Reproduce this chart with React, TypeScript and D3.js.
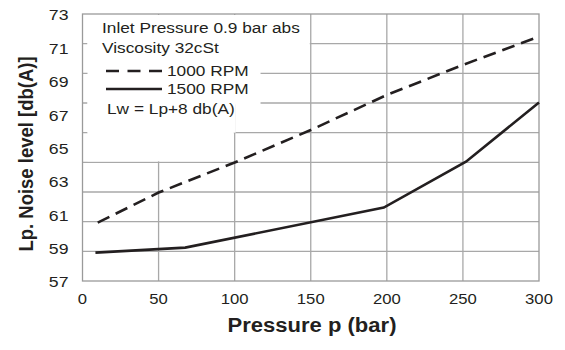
import * as d3 from "d3";

/* ------------------------------------------------------------------ */
/*  Data                                                              */
/* ------------------------------------------------------------------ */

// 1000 RPM (dashed)
const rpm1000P = [10, 50, 100, 150, 200, 250, 300];
const rpm1000Lp = [60.5, 62.3, 64.1, 66.05, 68.15, 69.95, 71.65];

// 1500 RPM (solid)
const rpm1500P = [8.5, 67.5, 198, 252, 300];
const rpm1500Lp = [58.7, 59.0, 61.4, 64.15, 67.7];

const xTicks = [0, 50, 100, 150, 200, 250, 300];
const yTicks = [57, 59, 61, 63, 65, 67, 69, 71, 73];

const legendLines = [
  "Inlet Pressure 0.9 bar abs",
  "Viscosity 32cSt",
  "1000 RPM",
  "1500 RPM",
  "Lw = Lp+8 db(A)",
];

/* ------------------------------------------------------------------ */
/*  Layout                                                            */
/* ------------------------------------------------------------------ */

const W = 565;
const H = 350;
const left = 82.5;
const right = 539;
const top = 14;
const bottom = 281;

const font = "'Liberation Sans', Arial, sans-serif";
const ink = "#231f20";
const gridColor = "#a8a8a8";
// the source art is slightly wider than tall, so text is stretched a bit
const stretch = 1.13;

function T({
  x,
  y,
  size,
  anchor = "start",
  bold = false,
  sx = stretch,
  rotate = 0,
  baseline,
  children,
}: {
  x: number;
  y: number;
  size: number;
  anchor?: "start" | "middle" | "end";
  bold?: boolean;
  sx?: number;
  rotate?: number;
  baseline?: string;
  children: React.ReactNode;
}) {
  return (
    <text
      transform={`translate(${x},${y}) scale(${sx},1)${rotate ? ` rotate(${rotate})` : ""}`}
      textAnchor={anchor}
      dominantBaseline={baseline}
      fontSize={size}
      fontWeight={bold ? 700 : 400}
      fill={ink}
    >
      {children}
    </text>
  );
}

export default function App() {
  const x = d3.scaleLinear().domain([0, 300]).range([left, right]);
  const y = d3.scaleLinear().domain([57, 73]).range([bottom, top]);

  // horizontal grid: nine equal bands, independent of the labels
  const gy = d3.scaleLinear().domain([0, 9]).range([bottom, top]);
  const hGrid = d3.range(1, 9);

  const line = d3
    .line<[number, number]>()
    .x((d) => x(d[0]))
    .y((d) => y(d[1]));

  const dashed = line(rpm1000P.map((p, i) => [p, rpm1000Lp[i]]));
  const solid = line(rpm1500P.map((p, i) => [p, rpm1500Lp[i]]));

  // white legend area (stepped), leaving small ticks at the left edge
  const masks = [
    { x0: left + 5, x1: x(150) - 1, y0: top + 1, y1: gy(8) + 1.5 },
    { x0: left + 5, x1: x(117), y0: gy(8) - 1, y1: gy(6) + 1.5 },
    { x0: left + 5, x1: x(100) + 1, y0: gy(6) - 1, y1: gy(5) },
    { x0: left + 5, x1: x(100) - 1, y0: gy(5) - 1, y1: gy(4) - 1 },
    { x0: left + 0.5, x1: left + 6, y0: top + 1, y1: gy(8) - 1 },
  ];

  return (
    <svg
      width={W}
      height={H}
      style={{ position: "absolute", left: 0, top: 0, background: "#fff" }}
      fontFamily={font}
    >
      {/* Grid */}
      {xTicks.slice(1, -1).map((t) => (
        <line
          key={`xg-${t}`}
          x1={x(t)}
          x2={x(t)}
          y1={top}
          y2={bottom}
          stroke={gridColor}
          strokeWidth={1.3}
        />
      ))}
      {hGrid.map((i) => (
        <line
          key={`yg-${i}`}
          x1={left}
          x2={right}
          y1={gy(i)}
          y2={gy(i)}
          stroke={gridColor}
          strokeWidth={1.3}
        />
      ))}

      {/* Legend background */}
      {masks.map((m, i) => (
        <rect key={i} x={m.x0} y={m.y0} width={m.x1 - m.x0} height={m.y1 - m.y0} fill="#fff" />
      ))}

      {/* Frame */}
      <rect
        x={left}
        y={top}
        width={right - left}
        height={bottom - top}
        fill="none"
        stroke="#9a9a9a"
        strokeWidth={1.3}
      />

      {/* Data lines */}
      <path d={dashed ?? ""} fill="none" stroke={ink} strokeWidth={2.6} strokeDasharray="13 7" />
      <path d={solid ?? ""} fill="none" stroke={ink} strokeWidth={2.6} />

      {/* Y tick labels */}
      {yTicks.map((t) => (
        <T key={`yl-${t}`} x={68.5} y={y(t) + 1} size={14.5} anchor="end" sx={1.22} baseline="central">
          {t}
        </T>
      ))}

      {/* X tick labels */}
      {xTicks.map((t) => (
        <T key={`xl-${t}`} x={x(t)} y={299} size={14.5} anchor="middle" sx={1.15} baseline="central">
          {t}
        </T>
      ))}

      {/* Axis titles */}
      <T x={312} y={332} size={19.5} anchor="middle" bold>
        Pressure p (bar)
      </T>
      <T x={32.5} y={154} size={18.5} anchor="middle" bold rotate={-90}>
        Lp. Noise level [db(A)]
      </T>

      {/* Legend */}
      <T x={102} y={33} size={15.3}>
        {legendLines[0]}
      </T>
      <T x={102} y={53} size={15.3}>
        {legendLines[1]}
      </T>
      <line x1={106} x2={162} y1={71} y2={71} stroke={ink} strokeWidth={2.6} strokeDasharray="13 8.5" />
      <T x={167} y={76} size={15.3}>
        {legendLines[2]}
      </T>
      <line x1={106} x2={162} y1={89} y2={89} stroke={ink} strokeWidth={2.6} />
      <T x={167} y={94} size={15.3}>
        {legendLines[3]}
      </T>
      <T x={107} y={114} size={15.3}>
        {legendLines[4]}
      </T>
    </svg>
  );
}
